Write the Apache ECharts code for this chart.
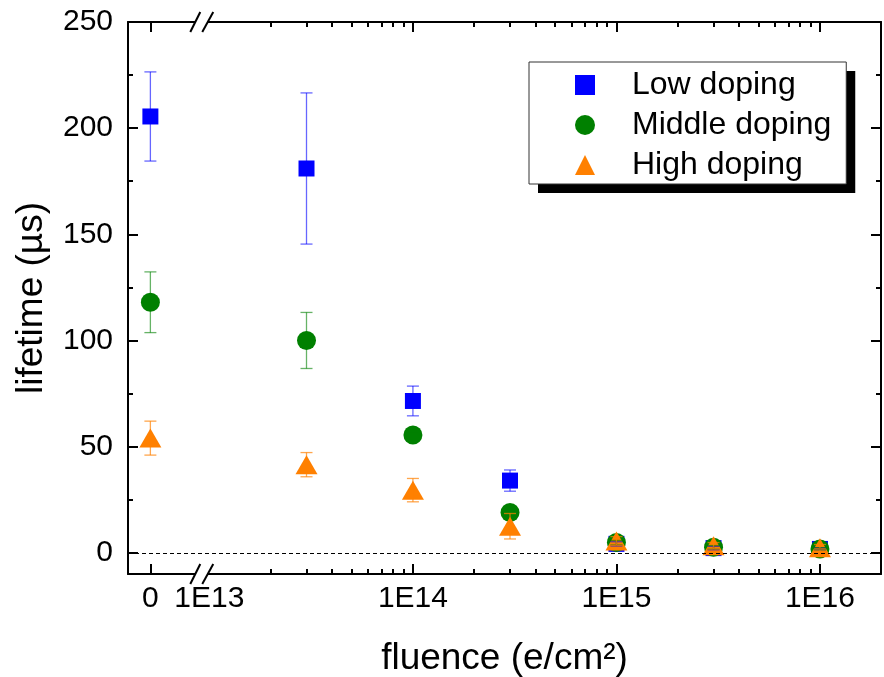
<!DOCTYPE html>
<html>
<head>
<meta charset="utf-8">
<script src="https://cdn.jsdelivr.net/npm/echarts@6/dist/echarts.min.js"></script>
<style>
  html, body { margin: 0; padding: 0; background: #fff; }
  #chart { width: 884px; height: 677px; }
</style>
</head>
<body>
<div id="chart"></div>
<script>
// fluence in e/cm², 0 = unirradiated reference
const fluence = [0, 3e13, 1e14, 3e14, 1e15, 3e15, 1e16];

const lowVal = [205.5, 181, 71.5, 34, 4.2, 2.2, 1.8];
const lowErr = [21, 35.6, 7, 5, 1, 0.8, 0.6];
const midVal = [118, 100, 55.5, 19, 4.8, 2.6, 1.8];
const midErr = [14.3, 13.2, 1.5, 1, 1, 0.8, 0.6];
const highVal = [54, 41.5, 29.5, 12.5, 5.6, 3.3, 2.4];
const highErr = [8, 5.7, 5.5, 6, 2, 1.5, 1.5];

const xLabels = ['0', '1E13', '1E14', '1E15', '1E16'];
const yMajor = [0, 50, 100, 150, 200, 250];
const yMinor = [25, 75, 125, 175, 225];
const legendNames = ['Low doping', 'Middle doping', 'High doping'];

// x axis works in decades (log10), the 0 point sits left of the break
const ZERO_POS = 12.71;
const BREAK_POS = 12.96;
const X_MIN = 12.6, X_MAX = 16.3;
const pos = f => (f === 0 ? ZERO_POS : Math.log10(f));

const xLabelPos = [ZERO_POS, 13, 14, 15, 16];
const xMajorTicks = [ZERO_POS, 14, 15, 16];
const xMinorTicks = [];
[13, 14, 15].forEach(n => {
  for (let k = 2; k <= 9; k++) {
    const v = n + Math.log10(k);
    if (v <= X_MAX) xMinorTicks.push(v);
  }
});

const FONT = 'Liberation Sans, Arial, sans-serif';
const chart = echarts.init(document.getElementById('chart'));

function xAxisDef(gridIndex, position, major) {
  return {
    type: 'value', gridIndex: gridIndex, position: position,
    min: X_MIN, max: X_MAX,
    splitLine: { show: false },
    axisLine: { show: major, onZero: false, lineStyle: { color: '#000', width: 2 } },
    axisTick: {
      show: true, inside: true, length: major ? 10 : 5,
      customValues: major ? xMajorTicks : xMinorTicks,
      lineStyle: { color: '#000', width: 2 }
    },
    axisLabel: {
      show: major && position === 'bottom',
      customValues: xLabelPos,
      margin: 10,
      fontSize: 30, fontFamily: FONT, color: '#000',
      formatter: v => {
        let best = 0;
        xLabelPos.forEach((p, i) => { if (Math.abs(p - v) < Math.abs(xLabelPos[best] - v)) best = i; });
        return xLabels[best];
      }
    },
    name: major && position === 'bottom' ? 'fluence (e/cm²)' : '',
    nameLocation: 'middle', nameGap: 66,
    nameTextStyle: { fontSize: 37, fontFamily: FONT, color: '#000' }
  };
}

function yAxisDef(gridIndex, position, major) {
  return {
    type: 'value', gridIndex: gridIndex, position: position,
    min: -10, max: 250,
    splitLine: { show: false },
    axisLine: { show: major, onZero: false, lineStyle: { color: '#000', width: 2 } },
    axisTick: {
      show: true, inside: true, length: major ? 10 : 5,
      customValues: major ? yMajor : yMinor,
      lineStyle: { color: '#000', width: 2 }
    },
    axisLabel: {
      show: major && position === 'left',
      customValues: yMajor,
      margin: 15,
      fontSize: 30, fontFamily: FONT, color: '#000'
    },
    name: major && position === 'left' ? 'lifetime (µs)' : '',
    nameLocation: 'middle', nameGap: 78,
    nameTextStyle: { fontSize: 37, fontFamily: FONT, color: '#000' }
  };
}

function errorBars(name, vals, errs, color) {
  return {
    type: 'custom', name: name, xAxisIndex: 0, yAxisIndex: 0, z: 5, silent: true,
    data: fluence.map((f, i) => [pos(f), vals[i] - errs[i], vals[i] + errs[i]]),
    encode: { x: 0, y: [1, 2] },
    renderItem: function (params, api) {
      const x = api.value(0);
      const lo = api.coord([x, api.value(1)]);
      const hi = api.coord([x, api.value(2)]);
      const w = 6;
      const style = { stroke: color, lineWidth: 1.3, fill: null };
      return {
        type: 'group',
        children: [
          { type: 'line', shape: { x1: lo[0], y1: lo[1], x2: hi[0], y2: hi[1] }, style: style },
          { type: 'line', shape: { x1: lo[0] - w, y1: lo[1], x2: lo[0] + w, y2: lo[1] }, style: style },
          { type: 'line', shape: { x1: hi[0] - w, y1: hi[1], x2: hi[0] + w, y2: hi[1] }, style: style }
        ]
      };
    }
  };
}

function points(name, vals, symbol, size, color) {
  return {
    type: 'scatter', name: name, xAxisIndex: 0, yAxisIndex: 0, z: 3,
    symbol: symbol, symbolSize: size,
    itemStyle: { color: color, opacity: 1 },
    data: fluence.map((f, i) => [pos(f), vals[i]])
  };
}

const gridRect = { left: 128, right: 3, top: 22, bottom: 103, outerBoundsMode: 'none' };

const low = points(legendNames[0], lowVal, 'rect', 16, '#0000ff');
low.markLine = {
  silent: true, symbol: 'none', label: { show: false },
  lineStyle: { color: '#000', width: 1, type: [4, 3] },
  data: [{ yAxis: 0 }]
};

// two stacked legends: the lower one only paints the white box with its hard black shadow,
// the upper one paints the thin border, icons and text
const legendBase = {
  data: legendNames,
  orient: 'vertical',
  left: 529, top: 62,
  padding: [6, 15, 2, 46],
  itemWidth: 20, itemHeight: 20, itemGap: 6,
  selectedMode: false
};

chart.setOption({
  animation: false,
  backgroundColor: '#fff',
  grid: [Object.assign({}, gridRect), Object.assign({}, gridRect)],
  xAxis: [
    xAxisDef(0, 'bottom', true), xAxisDef(0, 'top', true),
    xAxisDef(1, 'bottom', false), xAxisDef(1, 'top', false)
  ],
  yAxis: [
    yAxisDef(0, 'left', true), yAxisDef(0, 'right', true),
    yAxisDef(1, 'left', false), yAxisDef(1, 'right', false)
  ],
  legend: [
    Object.assign({}, legendBase, {
      z: 4,
      backgroundColor: '#fff', borderWidth: 0,
      shadowColor: '#000', shadowBlur: 0, shadowOffsetX: 9, shadowOffsetY: 9,
      itemStyle: { opacity: 0 },
      textStyle: { fontSize: 32, lineHeight: 34, fontFamily: FONT, color: 'rgba(0,0,0,0)', padding: [0, 0, 0, 32] }
    }),
    Object.assign({}, legendBase, {
      z: 6,
      backgroundColor: 'rgba(0,0,0,0)',
      borderColor: '#333', borderWidth: 1,
      textStyle: { fontSize: 32, lineHeight: 34, fontFamily: FONT, color: '#000', padding: [0, 0, 0, 32] }
    })
  ],
  series: [
    low,
    points(legendNames[1], midVal, 'circle', 19, '#008000'),
    points(legendNames[2], highVal, 'triangle', [22, 19], '#ff8000'),
    errorBars('lowErr', lowVal, lowErr, 'rgba(0,0,255,0.6)'),
    errorBars('midErr', midVal, midErr, 'rgba(0,128,0,0.6)'),
    errorBars('highErr', highVal, highErr, 'rgba(255,128,0,0.7)')
  ]
});

// axis break marks "//" on the bottom and top frame lines
const bx = chart.convertToPixel({ xAxisIndex: 0 }, BREAK_POS);
const frameY = [chart.convertToPixel({ yAxisIndex: 0 }, -10), chart.convertToPixel({ yAxisIndex: 0 }, 250)];
const breakGraphics = [];
frameY.forEach(y => {
  breakGraphics.push({ type: 'rect', shape: { x: bx - 6, y: y - 2, width: 12, height: 4 }, style: { fill: '#fff' }, z: 100 });
  breakGraphics.push({ type: 'line', shape: { x1: bx - 11, y1: y + 10, x2: bx - 1, y2: y - 10 }, style: { stroke: '#000', lineWidth: 2 }, z: 101 });
  breakGraphics.push({ type: 'line', shape: { x1: bx + 1, y1: y + 10, x2: bx + 12, y2: y - 10 }, style: { stroke: '#000', lineWidth: 2 }, z: 101 });
});
chart.setOption({ graphic: breakGraphics });
</script>
</body>
</html>
